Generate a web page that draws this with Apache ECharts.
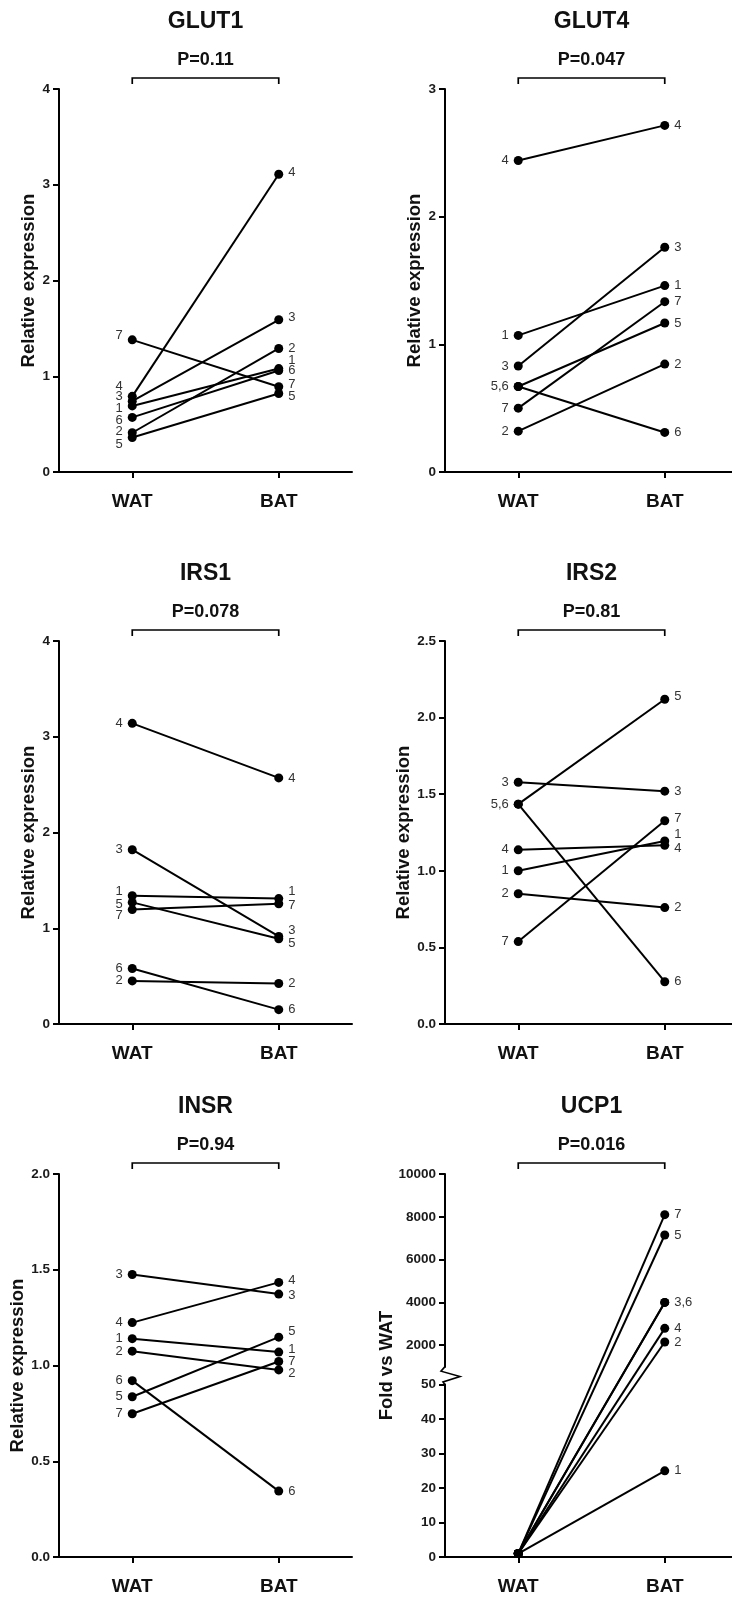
<!DOCTYPE html>
<html>
<head>
<meta charset="utf-8">
<script src="https://cdn.jsdelivr.net/npm/echarts@6/dist/echarts.min.js"></script>
<style>
html,body{margin:0;padding:0;background:#fff;}
#c{width:732px;height:1599px;}
</style>
</head>
<body>
<div id="c"></div>
<script>
// ---------------- DATA ----------------
const categories = ['WAT', 'BAT'];
const subjects = ['1', '2', '3', '4', '5', '6', '7'];
const titles = ['GLUT1', 'GLUT4', 'IRS1', 'IRS2', 'INSR', 'UCP1'];
const pValues = ['P=0.11', 'P=0.047', 'P=0.078', 'P=0.81', 'P=0.94', 'P=0.016'];
const yNames = ['Relative expression', 'Relative expression', 'Relative expression',
                'Relative expression', 'Relative expression', 'Fold vs WAT'];

// values by subject 1..7
const glut1WAT = [0.69, 0.41, 0.74, 0.79, 0.36, 0.57, 1.38];
const glut1BAT = [1.08, 1.29, 1.59, 3.11, 0.82, 1.06, 0.89];
const glut4WAT = [1.07, 0.32, 0.83, 2.44, 0.67, 0.67, 0.50];
const glut4BAT = [1.46, 0.845, 1.76, 2.715, 1.167, 0.31, 1.334];
const irs1WAT  = [1.34, 0.45, 1.82, 3.14, 1.27, 0.58, 1.195];
const irs1BAT  = [1.31, 0.423, 0.915, 2.57, 0.89, 0.15, 1.256];
const irs2WAT  = [1.00, 0.85, 1.578, 1.137, 1.435, 1.435, 0.538];
const irs2BAT  = [1.195, 0.76, 1.52, 1.166, 2.12, 0.276, 1.327];
const insrWAT  = [1.14, 1.075, 1.475, 1.224, 0.837, 0.921, 0.748];
const insrBAT  = [1.07, 0.977, 1.373, 1.434, 1.148, 0.344, 1.021];
const ucp1WAT  = [1, 1, 1, 1, 1, 1, 1];
const ucp1BAT  = [25, 2150, 4000, 2790, 7150, 4000, 8100];

// tick labels
const glut1Ticks = [0, 1, 2, 3, 4];
const glut4Ticks = [0, 1, 2, 3];
const irs1Ticks  = [0, 1, 2, 3, 4];
const irs2Ticks  = [0.0, 0.5, 1.0, 1.5, 2.0, 2.5];
const insrTicks  = [0.0, 0.5, 1.0, 1.5, 2.0];
const ucp1Ticks  = [0, 10, 20, 30, 40, 50, 2000, 4000, 6000, 8000, 10000];

// point labels (merged labels where two points coincide)
const glut1WatLabels = ['1', '2', '3', '4', '5', '6', '7'];
const glut1BatLabels = ['1', '2', '3', '4', '5', '6', '7'];
const glut4WatLabels = ['1', '2', '3', '4', '5,6', '', '7'];
const glut4BatLabels = ['1', '2', '3', '4', '5', '6', '7'];
const irs1WatLabels  = ['1', '2', '3', '4', '5', '6', '7'];
const irs1BatLabels  = ['1', '2', '3', '4', '5', '6', '7'];
const irs2WatLabels  = ['1', '2', '3', '4', '5,6', '', '7'];
const irs2BatLabels  = ['1', '2', '3', '4', '5', '6', '7'];
const insrWatLabels  = ['1', '2', '3', '4', '5', '6', '7'];
const insrBatLabels  = ['1', '2', '3', '4', '5', '6', '7'];
const ucp1WatLabels  = ['', '', '', '', '', '', ''];
const ucp1BatLabels  = ['1', '2', '3,6', '4', '5', '', '7'];

// ---------------- LAYOUT ----------------
const FONT = "'Liberation Sans', Arial, Helvetica, sans-serif";
// vertical label nudges (px) to keep stacked labels readable
const nudge = [
  { w: [2.4, -1, -4.4, -10.4, 6.5, 3.3, -4], b: [-8.5, 0, -2, -2, 3, 0, -2] },
  { w: [0, 0, 0, 0, 0, 0, 0], b: [0, 0, 0, 0, 0, 0, 0] },
  { w: [-4, 0, 0, 0, 2, 0, 5.5], b: [-7, 0, -6, 0, 4.5, 0, 2] },
  { w: [0, 0, 0, 0, 0, 0, 0], b: [-6.5, 0, 0, 3, -2.5, 0, -2] },
  { w: [0, 0, 0, 0, 0, 0, 0], b: [-3, 4, 1, -2, -6, 0, 0] },
  { w: [0, 0, 0, 0, 0, 0, 0], b: [0, 0, 0, 0, 0, 0, 0] }
];
const colLeft = [59, 445];
const rowTop = [89, 641, 1174];
const gridW = 293, gridH = 383;

// broken axis mapping for UCP1: 0-50 lower segment, 1000-10000 upper segment
function ucpScale(v) {
  return v <= 50 ? v / 50 * 45 : 49.7 + (v - 1000) / 9000 * 50.3;
}

const panels = [
  { wat: glut1WAT, bat: glut1BAT, ticks: glut1Ticks, wl: glut1WatLabels, bl: glut1BatLabels, dec: 0, gap: 21 },
  { wat: glut4WAT, bat: glut4BAT, ticks: glut4Ticks, wl: glut4WatLabels, bl: glut4BatLabels, dec: 0, gap: 21 },
  { wat: irs1WAT,  bat: irs1BAT,  ticks: irs1Ticks,  wl: irs1WatLabels,  bl: irs1BatLabels,  dec: 0, gap: 21 },
  { wat: irs2WAT,  bat: irs2BAT,  ticks: irs2Ticks,  wl: irs2WatLabels,  bl: irs2BatLabels,  dec: 1, gap: 32 },
  { wat: insrWAT,  bat: insrBAT,  ticks: insrTicks,  wl: insrWatLabels,  bl: insrBatLabels,  dec: 1, gap: 32 },
  { wat: ucp1WAT,  bat: ucp1BAT,  ticks: ucp1Ticks,  wl: ucp1WatLabels,  bl: ucp1BatLabels,  dec: 0, gap: 49, broken: true }
];

const grids = [], xAxes = [], yAxes = [], series = [];
panels.forEach((P, i) => {
  const col = i % 2, row = Math.floor(i / 2);
  grids.push({ left: colLeft[col], top: rowTop[row], width: gridW, height: gridH,
               outerBoundsMode: 'none', containLabel: false });
  xAxes.push({
    type: 'category', gridIndex: i, data: categories, boundaryGap: true,
    axisLine: { show: true, lineStyle: { color: '#000', width: 2 } },
    axisTick: { show: true, alignWithLabel: true, length: 6, lineStyle: { color: '#000', width: 2 } },
    axisLabel: { fontFamily: FONT, fontWeight: 'bold', fontSize: 19, color: '#111', margin: 20 },
    splitLine: { show: false }
  });
  const tr = P.broken ? ucpScale : (v => v);
  const tickVals = P.ticks.map(tr);
  const y = {
    type: 'value', gridIndex: i,
    min: tickVals[0], max: tickVals[tickVals.length - 1],
    axisLine: { show: true, lineStyle: { color: '#000', width: 2 } },
    axisTick: { show: true, length: 6, lineStyle: { color: '#000', width: 2 } },
    splitLine: { show: false },
    axisLabel: {
      fontFamily: FONT, fontWeight: 'bold', fontSize: 13.5, color: '#1a1a1a', margin: 9,
      formatter: function (val) {
        if (P.broken) {
          for (let k = 0; k < P.ticks.length; k++) {
            if (Math.abs(tickVals[k] - val) < 1e-6) return String(P.ticks[k]);
          }
          return '';
        }
        return Number(val).toFixed(P.dec);
      }
    },
    name: yNames[i], nameLocation: 'middle', nameRotate: 90, nameGap: P.gap, nameMoveOverlap: false,
    nameTextStyle: { fontFamily: FONT, fontWeight: 'bold', fontSize: 18.5, color: '#111' }
  };
  if (P.broken) {
    y.axisLabel.customValues = tickVals;
    y.axisTick.customValues = tickVals;
  } else {
    y.interval = P.ticks[1] - P.ticks[0];
  }
  yAxes.push(y);

  subjects.forEach((s, k) => {
    series.push({
      type: 'line', xAxisIndex: i, yAxisIndex: i, name: titles[i] + '-' + s,
      symbol: 'circle', symbolSize: 9, silent: true, animation: false,
      lineStyle: { color: '#000', width: 2 },
      itemStyle: { color: '#000' },
      z: 3,
      data: [
        { value: tr(P.wat[k]),
          label: { show: P.wl[k] !== '', formatter: P.wl[k], position: 'left', distance: 5,
                   offset: [0, nudge[i].w[k]], fontFamily: FONT, fontSize: 13, color: '#333' } },
        { value: tr(P.bat[k]),
          label: { show: P.bl[k] !== '', formatter: P.bl[k], position: 'right', distance: 5,
                   offset: [0, nudge[i].b[k]], fontFamily: FONT, fontSize: 13, color: '#333' } }
      ]
    });
  });
});

const chart = echarts.init(document.getElementById('c'), null, { renderer: 'canvas' });
chart.setOption({
  animation: false,
  backgroundColor: '#fff',
  grid: grids, xAxis: xAxes, yAxis: yAxes, series: series
});

// titles, p-values, brackets, axis break
const g = [];
panels.forEach((P, i) => {
  const xW = chart.convertToPixel({ xAxisIndex: i }, 'WAT');
  const xB = chart.convertToPixel({ xAxisIndex: i }, 'BAT');
  const tr = P.broken ? ucpScale : (v => v);
  const yTop = chart.convertToPixel({ yAxisIndex: i }, tr(P.ticks[P.ticks.length - 1]));
  const cx = (xW + xB) / 2;
  g.push({ type: 'text', x: cx, y: yTop - 67, z: 10,
    style: { text: titles[i], fill: '#111', font: 'bold 23px ' + FONT,
             align: 'center', verticalAlign: 'middle', textAlign: 'center', textVerticalAlign: 'middle' } });
  g.push({ type: 'text', x: cx, y: yTop - 29, z: 10,
    style: { text: pValues[i], fill: '#111', font: 'bold 18px ' + FONT,
             align: 'center', verticalAlign: 'middle', textAlign: 'center', textVerticalAlign: 'middle' } });
  g.push({ type: 'polyline', z: 10,
    shape: { points: [[xW, yTop - 5], [xW, yTop - 11], [xB, yTop - 11], [xB, yTop - 5]] },
    style: { stroke: '#000', lineWidth: 1.7, fill: null } });
  if (P.broken) {
    const axX = colLeft[i % 2];
    const yA = chart.convertToPixel({ yAxisIndex: i }, ucpScale(1000));
    const yB = chart.convertToPixel({ yAxisIndex: i }, ucpScale(50));
    const h = yB - yA;
    g.push({ type: 'rect', z: 20, shape: { x: axX - 3, y: yA + 1, width: 6, height: h - 2 },
             style: { fill: '#fff', stroke: null } });
    g.push({ type: 'polyline', z: 21,
      shape: { points: [[axX, yA], [axX - 4, yA + h * 0.25], [axX + 15, yA + h * 0.55], [axX - 2, yA + h * 0.85], [axX, yB]] },
      style: { stroke: '#000', lineWidth: 1.6, fill: null } });
  }
});
chart.setOption({ graphic: g });
</script>
</body>
</html>
